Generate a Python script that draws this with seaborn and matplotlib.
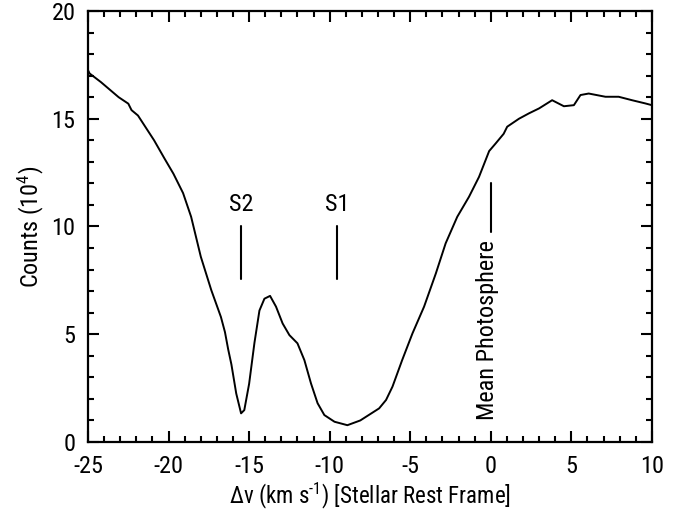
import matplotlib
matplotlib.use("Agg")
import matplotlib.pyplot as plt
from matplotlib.ticker import MultipleLocator
from matplotlib import font_manager
import seaborn as sns
import pandas as pd

# Spectrum values (velocity in km/s, counts in 1e4)
velocity = [-25.0, -24.9, -24.2, -23.1, -22.5, -22.3, -21.9, -20.9, -20.25, -19.7,
            -19.1, -18.6, -18.0, -17.35, -16.75, -16.5, -16.3, -16.1, -15.8, -15.5,
            -15.3, -15.0, -14.67, -14.36, -14.05, -13.7, -13.33, -12.92, -12.5, -12.0,
            -11.57, -11.16, -10.75, -10.33, -9.7, -8.9, -8.1, -6.93, -6.5, -6.1,
            -5.5, -4.86, -4.14, -3.41, -2.8, -2.08, -1.35, -0.73, -0.1, 0.3,
            0.8, 1.02, 1.75, 2.37, 3.0, 3.81, 4.54, 5.16, 5.57, 6.08,
            7.12, 7.94, 8.77, 9.6, 10.0]
counts = [17.25, 17.1, 16.7, 16.0, 15.7, 15.4, 15.15, 14.0, 13.15, 12.45,
          11.55, 10.45, 8.6, 7.05, 5.8, 5.1, 4.3, 3.6, 2.25, 1.33,
          1.48, 2.7, 4.6, 6.1, 6.65, 6.78, 6.28, 5.5, 4.96, 4.58,
          3.8, 2.72, 1.8, 1.25, 0.94, 0.78, 1.0, 1.56, 1.95, 2.57,
          3.8, 5.04, 6.28, 7.82, 9.22, 10.45, 11.38, 12.3, 13.5, 13.85,
          14.3, 14.63, 15.0, 15.25, 15.48, 15.86, 15.58, 15.63, 16.1, 16.17,
          16.02, 16.02, 15.86, 15.71, 15.63]

# Component markers
marker_names = ["S2", "S1"]
marker_vel = [-15.5, -9.55]
marker_lo, marker_hi = 7.55, 10.0
photo_vel = 0.0
photo_lo, photo_hi = 9.75, 12.0

x_ticks = [-25, -20, -15, -10, -5, 0, 5, 10]
y_ticks = [0, 5, 10, 15, 20]

sns.set_theme(style="ticks")
names = {f.name for f in font_manager.fontManager.ttflist}
main_font = "Liberation Sans"
for cand in ["Liberation Sans Narrow", "Arial Narrow", "Roboto Condensed"]:
    if cand in names:
        main_font = cand
        break
plt.rcParams["font.family"] = [main_font, "DejaVu Sans"]
plt.rcParams["axes.unicode_minus"] = False
plt.rcParams["mathtext.fontset"] = "custom"
plt.rcParams["mathtext.rm"] = main_font
plt.rcParams["mathtext.it"] = main_font
for k in ["text.color", "axes.labelcolor", "xtick.color", "ytick.color", "axes.edgecolor"]:
    plt.rcParams[k] = "black"

FS_TICK = 17.5
FS_XLABEL = 16.5
FS_YLABEL = 17.5
FS_NOTE = 17.5
fig = plt.figure(figsize=(6.84, 5.16), dpi=100)
ax = fig.add_axes([0.1287, 0.1434, 0.8243, 0.8353])

df = pd.DataFrame({"v": velocity, "c": counts})
sns.lineplot(data=df, x="v", y="c", ax=ax, color="black", linewidth=1.4,
             sort=False, estimator=None)

for name, v in zip(marker_names, marker_vel):
    ax.plot([v, v], [marker_lo, marker_hi], color="black", linewidth=1.5)
    ax.text(v, marker_hi + 0.5, name, ha="center", va="bottom", fontsize=FS_NOTE)

ax.plot([photo_vel, photo_vel], [photo_lo, photo_hi], color="black", linewidth=1.5)
ax.text(photo_vel - 0.2, photo_lo - 0.4, "Mean Photosphere", rotation=90,
        ha="center", va="top", fontsize=FS_NOTE)

ax.set_xlim(-25, 10)
ax.set_ylim(0, 20)
ax.set_xticks(x_ticks)
ax.set_yticks(y_ticks)
ax.set_xticklabels([str(t) for t in x_ticks])
ax.set_yticklabels([str(t) for t in y_ticks])
ax.xaxis.set_minor_locator(MultipleLocator(1))
ax.yaxis.set_minor_locator(MultipleLocator(1))
ax.tick_params(which="both", direction="in", top=True, right=True,
               labelsize=FS_TICK, width=1.5, color="black")
ax.tick_params(which="major", length=8, pad=9)
ax.tick_params(which="minor", length=4.5)
for s in ax.spines.values():
    s.set_linewidth(1.6)
    s.set_color("black")

ax.set_xlabel(r"$\Delta$v (km s$^{\text{-1}}$) [Stellar Rest Frame]", fontsize=FS_XLABEL, labelpad=2)
ax.set_ylabel(r"Counts (10$^{\text{4}}$)", fontsize=FS_YLABEL, labelpad=4)

fig.savefig("out.png", dpi=100)
